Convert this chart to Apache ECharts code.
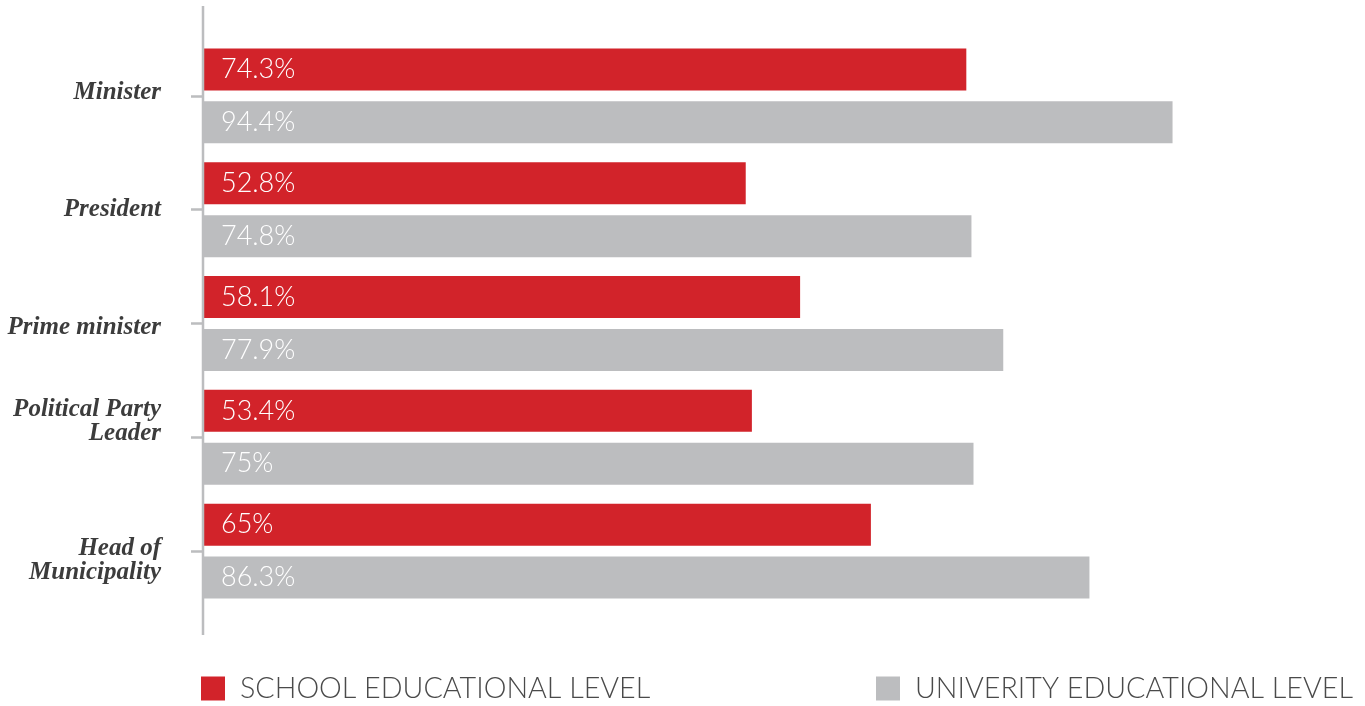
<!DOCTYPE html>
<html>
<head>
<meta charset="utf-8">
<script src="https://cdn.jsdelivr.net/npm/echarts@6/dist/echarts.min.js"></script>
<style>
html,body{margin:0;padding:0;background:#fff;}
#main{width:1365px;height:706px;}
</style>
</head>
<body>
<div id="main"></div>
<script>
const categories = ['Minister', 'President', 'Prime minister', 'Political Party\nLeader', 'Head of\nMunicipality'];
const schoolValues = [74.3, 52.8, 58.1, 53.4, 65];
const universityValues = [94.4, 74.8, 77.9, 75, 86.3];
const seriesNames = ['SCHOOL EDUCATIONAL LEVEL', 'UNIVERITY EDUCATIONAL LEVEL'];

const RED = '#d2232a';
const GRAY = '#bcbdbf';
const sansFont = 'Lato';

const chart = echarts.init(document.getElementById('main'));
const labelCfg = {
  show: true,
  position: 'insideLeft',
  distance: 17,
  color: '#ffffff',
  fontFamily: sansFont,
  fontWeight: 300,
  fontSize: 27,
  formatter: function (p) { return p.value + '%'; }
};
const legendText = { fontFamily: sansFont, fontWeight: 300, fontSize: 28.7, color: '#4a4a4a', padding: [0, 0, 0, 10] };
// vertical nudges of the category labels (spacer line heights: [above, below])
const labelNudge = { 'Minister': [0, 6], 'Prime minister': [8, 0], 'Political': [0, 31], 'Head': [19, 0] };
chart.setOption({
  animation: false,
  backgroundColor: '#ffffff',
  grid: { left: 204, right: 135, top: 39, bottom: 98, containLabel: false },
  xAxis: {
    type: 'value', min: 0, max: 100, show: false
  },
  yAxis: {
    type: 'category',
    inverse: true,
    data: categories,
    axisLine: { show: false },
    axisTick: { show: true, alignWithLabel: true, length: 13, lineStyle: { color: '#bcbdbf', width: 2.5 } },
    axisLabel: {
      margin: 43,
      color: '#3c3c3c',
      fontFamily: 'Liberation Serif',
      fontStyle: 'italic',
      fontWeight: 'bold',
      fontSize: 25,
      lineHeight: 24,
      align: 'right',
      formatter: function (v) {
        const lines = v.split('\n').map(function (l) { return '{t|' + l + '}'; });
        let key = v.split(' ')[0];
        if (v === 'Prime minister') key = v;
        if (key === 'Political' || key === 'Head') key = key;
        const n = labelNudge[key];
        if (n) {
          if (n[0]) { lines.unshift('{s' + n[0] + '| }'); }
          if (n[1]) { lines.push('{s' + n[1] + '| }'); }
        }
        return lines.join('\n');
      },
      rich: {
        t: { fontFamily: 'Liberation Serif', fontStyle: 'italic', fontWeight: 'bold', fontSize: 25, lineHeight: 24, color: '#3c3c3c' },
        s6: { fontSize: 4, lineHeight: 6 },
        s8: { fontSize: 4, lineHeight: 8 },
        s31: { fontSize: 10, lineHeight: 31 },
        s19: { fontSize: 10, lineHeight: 19 }
      }
    },
    splitLine: { show: false }
  },
  legend: [
    {
      data: [seriesNames[0]], left: 201, top: 674, padding: 0,
      itemWidth: 24, itemHeight: 24, icon: 'rect',
      textStyle: legendText
    },
    {
      data: [seriesNames[1]], left: 876, top: 674, padding: 0,
      itemWidth: 24, itemHeight: 24, icon: 'rect',
      textStyle: legendText
    }
  ],
  graphic: [
    { type: 'line', shape: { x1: 203, y1: 6, x2: 203, y2: 635 }, style: { stroke: '#bcbdbf', lineWidth: 2.5 }, z: 10 }
  ],
  series: [
    {
      name: seriesNames[0], type: 'bar', data: schoolValues,
      barWidth: 42, barGap: '26%',
      itemStyle: { color: RED },
      label: labelCfg
    },
    {
      name: seriesNames[1], type: 'bar', data: universityValues,
      barWidth: 42, barGap: '26%',
      itemStyle: { color: GRAY },
      label: labelCfg
    }
  ]
});
</script>
</body>
</html>
